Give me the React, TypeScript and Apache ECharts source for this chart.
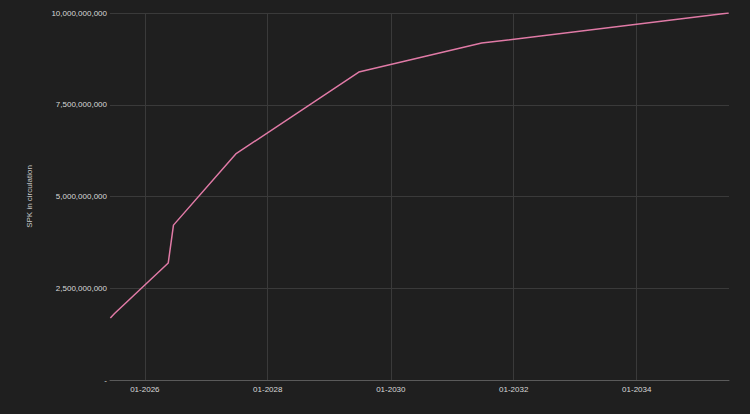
import React, { useEffect, useRef } from "react";
import * as echarts from "echarts";

const dates = [
  "2025-06-10",
  "2025-07-05",
  "2026-05-20",
  "2026-06-20",
  "2027-06-25",
  "2029-06-25",
  "2031-06-25",
  "2035-07-01",
];
const supply = [
  1690000000,
  1810000000,
  3190000000,
  4220000000,
  6160000000,
  8390000000,
  9180000000,
  10000000000,
];
const xTicks = ["2026-01-01", "2028-01-01", "2030-01-01", "2032-01-01", "2034-01-01"];
const yTicks = [0, 2500000000, 5000000000, 7500000000, 10000000000];

const ts = (s: string) => {
  const [y, m, d] = s.split("-").map(Number);
  return Date.UTC(y, m - 1, d);
};

export default function App() {
  const ref = useRef<HTMLDivElement>(null);
  useEffect(() => {
    if (!ref.current) return;
    const chart = echarts.init(ref.current, null, { renderer: "svg" });
    const tickVals = xTicks.map(ts);
    chart.setOption({
      animation: false,
      backgroundColor: "#1f1f1f",
      grid: { left: 110, right: 21, top: 13, bottom: 34 },
      xAxis: {
        type: "value",
        min: ts("2025-06-08"),
        max: ts("2035-07-03"),
        axisLine: { show: true, lineStyle: { color: "#5a5a5a", width: 1 } },
        axisTick: { show: false, customValues: tickVals },
        axisLabel: {
          customValues: tickVals,
          color: "#d8d8d8",
          fontSize: 8,
          fontFamily: "Liberation Sans, Arial, sans-serif",
          margin: 5,
          formatter: (v: number) => {
            const d = new Date(v);
            const mm = String(d.getUTCMonth() + 1).padStart(2, "0");
            return mm + "-" + d.getUTCFullYear();
          },
        },
        splitLine: { show: true, lineStyle: { color: "#3a3a3a", width: 1 } },
      },
      yAxis: {
        type: "value",
        min: 0,
        max: 10000000000,
        interval: 2500000000,
        name: "SPK in circulation",
        nameLocation: "middle",
        nameGap: 77,
        nameTextStyle: {
          color: "#c8c8c8",
          fontSize: 8,
          fontFamily: "Liberation Sans, Arial, sans-serif",
        },
        axisLine: { show: false },
        axisTick: { show: false },
        axisLabel: {
          color: "#d8d8d8",
          fontSize: 8,
          fontFamily: "Liberation Sans, Arial, sans-serif",
          margin: 3,
          formatter: (v: number) =>
            v === 0 ? "-" : yTicks.includes(v) ? v.toLocaleString("en-US") : "",
        },
        splitLine: { show: true, lineStyle: { color: "#3a3a3a", width: 1 } },
      },
      series: [
        {
          type: "line",
          data: dates.map((d, i) => [ts(d), supply[i]]),
          showSymbol: false,
          symbol: "none",
          lineStyle: { color: "#e07aa6", width: 1.5 },
        },
      ],
    });
    return () => chart.dispose();
  }, []);
  return <div ref={ref} style={{ width: 750, height: 414, position: "absolute", left: 0, top: 0 }} />;
}
